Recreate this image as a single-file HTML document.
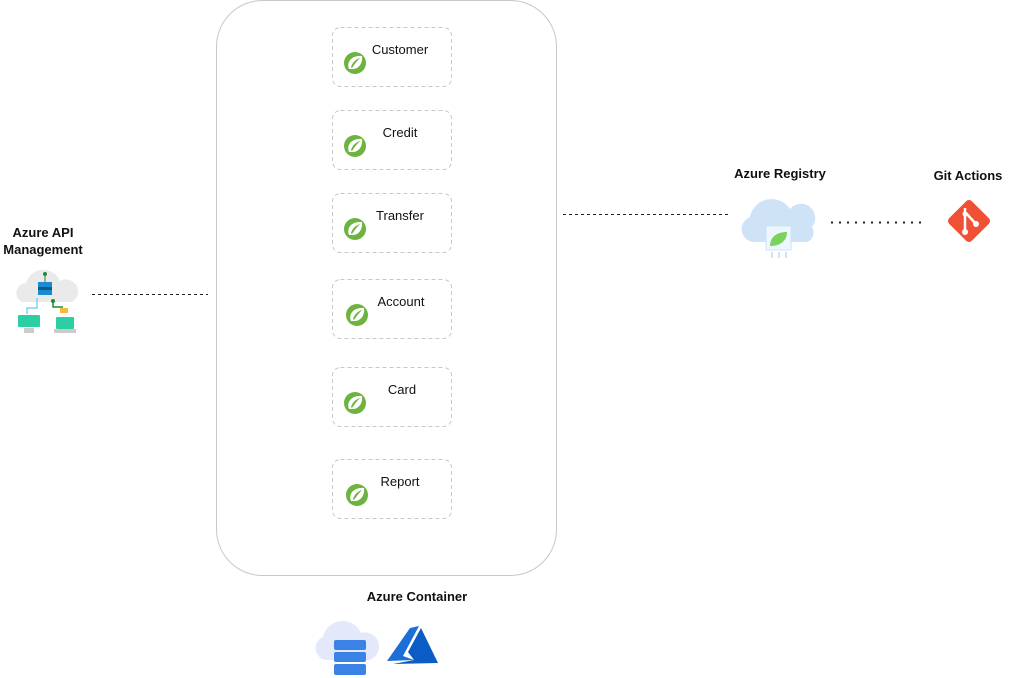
<!DOCTYPE html>
<html><head><meta charset="utf-8"><style>
html,body{margin:0;padding:0;background:#fff;width:1019px;height:678px;overflow:hidden}
svg{display:block}
text{font-family:"Liberation Sans",Arial,sans-serif}
</style></head><body>
<svg width="1019" height="678" viewBox="0 0 1019 678" xmlns="http://www.w3.org/2000/svg">
<defs>
<g id="spring">
<circle cx="0" cy="0" r="11" fill="#6db33f"/>
<path d="M-6,6 C-9,-2 -2,-8 7,-7 C8,1 3,7 -4,6 Z" fill="#fff"/>
<path d="M-4,4 C-2,-2 2,-4 5,-5 C1,-1 -1,2 -3,5 Z" fill="#6db33f"/>
</g>
</defs>
<rect x="216.5" y="0.5" width="340" height="575" rx="46" fill="#fff" stroke="#c8c8c8"/>
<g fill="#fff" stroke="#c8c8c8" stroke-dasharray="4 3">
<rect x="332.5" y="27.5" width="119" height="59" rx="8"/>
<rect x="332.5" y="110.5" width="119" height="59" rx="8"/>
<rect x="332.5" y="193.5" width="119" height="59" rx="8"/>
<rect x="332.5" y="279.5" width="119" height="59" rx="8"/>
<rect x="332.5" y="367.5" width="119" height="59" rx="8"/>
<rect x="332.5" y="459.5" width="119" height="59" rx="8"/>
</g>
<g font-size="13" fill="#111" text-anchor="middle">
<text x="400" y="54">Customer</text>
<text x="400" y="137">Credit</text>
<text x="400" y="220">Transfer</text>
<text x="401" y="306">Account</text>
<text x="402" y="394">Card</text>
<text x="400" y="486">Report</text>
</g>
<use href="#spring" x="355" y="63"/>
<use href="#spring" x="355" y="146"/>
<use href="#spring" x="355" y="229"/>
<use href="#spring" x="357" y="315"/>
<use href="#spring" x="355" y="403"/>
<use href="#spring" x="357" y="495"/>
<g stroke="#222" stroke-width="1" fill="none">
<line x1="92" y1="294.5" x2="208" y2="294.5" stroke-dasharray="3 3"/>
<line x1="563" y1="214.5" x2="728" y2="214.5" stroke-dasharray="3 3"/>
<line x1="831" y1="222.5" x2="921" y2="222.5" stroke-dasharray="2 6" stroke-width="2"/>
</g>
<g font-size="13" font-weight="bold" fill="#111" text-anchor="middle">
<text x="43" y="237">Azure API</text>
<text x="43" y="254">Management</text>
<text x="780" y="178">Azure Registry</text>
<text x="968" y="180">Git Actions</text>
<text x="417" y="601">Azure Container</text>
</g>
<!-- API mgmt icon -->
<g>
<path d="M22,302 a10,10 0 0 1 4,-19 a18,18 0 0 1 34,-2 a11,11 0 0 1 12,21 Z" fill="#eaeaea"/>
<circle cx="45" cy="274" r="2" fill="#1e8a3c"/><line x1="45" y1="276" x2="45" y2="282" stroke="#1e8a3c"/>
<rect x="38" y="282" width="14" height="13" fill="#1a8ad1"/><rect x="38" y="287" width="14" height="3" fill="#0e5a8f"/>
<path d="M37,298 v10 h-10 v6" stroke="#7dd3f7" stroke-width="1.5" fill="none"/>
<path d="M53,301 v6 h10" stroke="#1e8a3c" stroke-width="1.5" fill="none"/><circle cx="53" cy="301" r="2" fill="#1e8a3c"/>
<rect x="60" y="308" width="8" height="5" fill="#f6b93b"/>
<rect x="18" y="315" width="22" height="12" rx="1" fill="#2ccfa4"/><rect x="24" y="328" width="10" height="5" fill="#ccc"/>
<rect x="56" y="317" width="18" height="12" rx="1" fill="#2ccfa4"/><rect x="54" y="329" width="22" height="4" fill="#ccc"/>
</g>
<!-- registry icon -->
<g>
<path d="M753,242 a13,13 0 0 1 -3,-25 a22,22 0 0 1 40,-8 a14,14 0 0 1 22,18 a10,10 0 0 1 -5,15 Z" fill="#cfe3f7"/>
<rect x="766" y="226" width="25" height="24" fill="#eef6ff" stroke="#cfe3f7"/>
<path d="M770,246 c0,-10 8,-14 17,-14 c0,9 -7,14 -17,14z" fill="#7bd35a"/>
<g stroke="#cfe3f7" stroke-width="2"><line x1="772" y1="252" x2="772" y2="258"/><line x1="779" y1="252" x2="779" y2="258"/><line x1="786" y1="252" x2="786" y2="258"/></g>
</g>
<!-- git icon -->
<g>
<rect x="953" y="205" width="32" height="32" rx="4" transform="rotate(45 969 221)" fill="#f05033"/>
<line x1="965" y1="208" x2="965" y2="233" stroke="#fff" stroke-width="2.5"/>
<line x1="966" y1="213" x2="975" y2="223" stroke="#fff" stroke-width="2.5"/>
<circle cx="965" cy="214" r="2.5" fill="#fff"/><circle cx="965" cy="232" r="3" fill="#fff"/><circle cx="976" cy="224" r="3" fill="#fff"/>
</g>
<!-- container icons -->
<g>
<path d="M326,660 a12,12 0 0 1 -3,-23 a20,20 0 0 1 38,-4 a13,13 0 0 1 8,27 Z" fill="#e3e9fb"/>
<rect x="334" y="640" width="32" height="10" rx="2" fill="#3b82e6"/>
<rect x="334" y="652" width="32" height="10" rx="2" fill="#3b82e6"/>
<rect x="334" y="664" width="32" height="11" rx="2" fill="#3b82e6"/>
<path d="M387,661 L410,628 L419,626 L403,656 L414,660 Z" fill="#1b6fd6"/>
<path d="M421,628 L438,663 L393,664 L414,660 L408,652 Z" fill="#0b5cc4"/>
</g>
</svg>
</body></html>
